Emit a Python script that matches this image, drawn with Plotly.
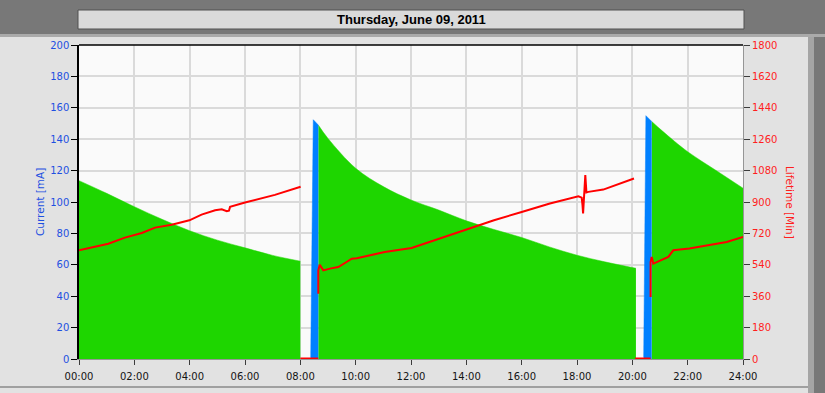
import plotly.graph_objects as go

# ---------------- data ----------------
# Beam current [mA] - stored-beam decay segments (hours of the day)
cur1_t = [0.0, 1.0, 2.0, 3.0, 4.0, 5.0, 6.0, 7.0, 8.0]
cur1_v = [113.6, 105.5, 97.0, 89.0, 81.7, 75.7, 70.8, 66.0, 62.3]
cur2_t = [8.65, 9.0, 10.0, 11.0, 12.0, 13.0, 14.0, 15.0, 16.0, 17.0, 18.0, 19.0, 20.13]
cur2_v = [149.0, 140.5, 121.5, 109.8, 101.3, 94.9, 88.0, 82.5, 77.4, 71.4, 66.1, 61.9, 57.8]
cur3_t = [20.7, 21.1, 22.0, 23.0, 24.0]
cur3_v = [151.3, 145.0, 132.0, 120.4, 108.8]

# Injection ramps [mA]
inj1_t = [8.375, 8.397, 8.433, 8.468, 8.65]
inj1_v = [1.0, 50.0, 120.5, 152.4, 149.0]
inj2_t = [20.41, 20.43, 20.46, 20.49, 20.7]
inj2_v = [1.0, 40.0, 110.0, 155.0, 151.3]

# Lifetime [Min]
life1_t = [0.0, 1.06, 1.66, 2.27, 2.75, 3.35, 3.99, 4.43, 4.92, 5.16, 5.34, 5.42, 5.46, 6.0, 7.08, 8.01]
life1_v = [623, 661, 696, 722, 753, 770, 795, 828, 853, 858, 847, 850, 872, 897, 941, 987]
life2_t = [8.65, 8.65, 8.7, 8.83, 9.07, 9.37, 9.67, 9.86, 10.04, 11.05, 12.02, 13.04, 14.13, 15.0,
           16.0, 17.02, 18.05, 18.17, 18.2, 18.22, 18.3, 18.32, 18.34, 18.41, 18.95, 20.06]
life2_v = [374, 508, 540, 508, 518, 527, 556, 575, 578, 613, 636, 690, 748, 795,
           843, 891, 933, 925, 880, 834, 1054, 1000, 955, 958, 971, 1035]
life3_t = [20.66, 20.66, 20.70, 20.76, 21.3, 21.48, 22.06, 22.69, 23.41, 24.0]
life3_v = [355, 556, 585, 547, 585, 623, 633, 652, 671, 699]
# Lifetime reads zero while no beam is stored
life0_1_t = [8.0, 8.65]
life0_1_v = [0, 0]
life0_2_t = [20.1, 20.66]
life0_2_v = [0, 0]

x_ticks = list(range(0, 25, 2))
x_labels = ["%02d:00" % h for h in x_ticks]
y_ticks = list(range(0, 201, 20))
y2_ticks = list(range(0, 1801, 180))

title_text = "Thursday, June 09, 2011"
y_title = "Current [mA]"
y2_title = "Lifetime [Min]"

# ---------------- styles ----------------
GREEN = "rgb(30,214,0)"
BLUE = "rgb(0,128,255)"
RED = "rgb(255,0,0)"
LBLUE = "rgb(30,80,225)"
LRED = "rgb(255,30,30)"
FONT = "DejaVu Sans"

W, H = 825, 393
L, R, T, B = 79, 82, 45, 34
PW, PH = W - L - R, H - T - B


def px(x):
    return (x - L) / PW


def py(y):
    return (H - B - y) / PH


fig = go.Figure()

for t, v in [(cur1_t, cur1_v), (cur2_t, cur2_v), (cur3_t, cur3_v)]:
    fig.add_trace(go.Scatter(x=t, y=v, mode="lines", line=dict(color=GREEN, width=0.5, shape="spline"),
                             fill="tozeroy", fillcolor=GREEN, hoverinfo="skip", showlegend=False))
for t, v in [(inj1_t, inj1_v), (inj2_t, inj2_v)]:
    fig.add_trace(go.Scatter(x=t, y=v, mode="lines", line=dict(color=BLUE, width=0.5),
                             fill="tozeroy", fillcolor=BLUE, hoverinfo="skip", showlegend=False))
for t, v in [(life1_t, life1_v), (life2_t, life2_v), (life3_t, life3_v)]:
    fig.add_trace(go.Scatter(x=t, y=v, yaxis="y2", mode="lines", line=dict(color=RED, width=2),
                             hoverinfo="skip", showlegend=False))
for t, v in [(life0_1_t, life0_1_v), (life0_2_t, life0_2_v)]:
    fig.add_trace(go.Scatter(x=t, y=v, yaxis="y2", mode="lines", line=dict(color=RED, width=3),
                             cliponaxis=False, hoverinfo="skip", showlegend=False))

shapes = [
    # header band
    dict(type="rect", xref="paper", yref="paper", x0=px(0), x1=px(W), y0=py(34), y1=py(0),
         fillcolor="rgb(120,120,120)", line=dict(width=0), layer="below"),
    dict(type="rect", xref="paper", yref="paper", x0=px(0), x1=px(W), y0=py(37), y1=py(34),
         fillcolor="rgb(170,170,170)", line=dict(width=0), layer="below"),
    # title box
    dict(type="rect", xref="paper", yref="paper", x0=px(78), x1=px(744), y0=py(29), y1=py(10),
         fillcolor="rgb(218,218,218)", line=dict(color="rgb(80,80,80)", width=1), layer="below"),
    # right border
    dict(type="rect", xref="paper", yref="paper", x0=px(808), x1=px(W), y0=py(H), y1=py(37),
         fillcolor="rgb(165,165,165)", line=dict(width=0), layer="below"),
    dict(type="rect", xref="paper", yref="paper", x0=px(814), x1=px(W), y0=py(H), y1=py(37),
         fillcolor="rgb(120,120,120)", line=dict(width=0), layer="below"),
    # bottom line
    dict(type="line", xref="paper", yref="paper", x0=px(0), x1=px(808), y0=py(387), y1=py(387),
         line=dict(color="rgb(160,160,160)", width=2), layer="below"),
    # top border of plot
    dict(type="line", xref="paper", yref="paper", x0=0, x1=1, y0=1, y1=1,
         line=dict(color="black", width=1.5)),
]

annotations = [
    dict(text="<b>" + title_text + "</b>", xref="paper", yref="paper", x=0.5, y=1,
         xanchor="center", yanchor="middle", yshift=T - 19,
         showarrow=False, font=dict(family="Liberation Sans", size=13, color="black")),
    dict(text=y_title, xref="paper", yref="paper", x=0, y=0.5, xanchor="center", yanchor="middle",
         xshift=-39, textangle=-90, showarrow=False, font=dict(family=FONT, size=10.5, color=LBLUE)),
    dict(text=y2_title, xref="paper", yref="paper", x=1, y=0.5, xanchor="center", yanchor="middle",
         xshift=47, textangle=90, showarrow=False, font=dict(family=FONT, size=10.5, color=LRED)),
]

fig.update_layout(
    width=W, height=H,
    margin=dict(l=L, r=R, t=T, b=B, pad=0),
    paper_bgcolor="rgb(226,226,226)",
    plot_bgcolor="rgb(250,250,250)",
    showlegend=False,
    shapes=shapes,
    annotations=annotations,
    xaxis=dict(range=[0, 24], tickvals=x_ticks, ticktext=x_labels, ticks="outside", ticklen=5,
               tickcolor="rgb(60,60,60)", showgrid=True, gridcolor="rgb(218,218,218)", gridwidth=2,
               showline=True, linecolor="rgb(150,150,150)", linewidth=1, zeroline=False,
               ticklabelstandoff=3,
               tickfont=dict(family=FONT, size=10, color="rgb(20,20,20)"), fixedrange=True),
    yaxis=dict(range=[0, 200], tickvals=y_ticks, ticks="outside", ticklen=6, tickcolor="black",
               showgrid=True, gridcolor="rgb(218,218,218)", gridwidth=2, showline=True,
               linecolor="black", linewidth=1.5, zeroline=False,
               tickfont=dict(family=FONT, size=10, color=LBLUE)),
    yaxis2=dict(range=[0, 1800], tickvals=y2_ticks, overlaying="y", side="right", ticks="outside",
                ticklen=6, tickcolor="rgb(60,60,60)", showgrid=False, showline=True,
                linecolor="rgb(150,150,150)", linewidth=1, zeroline=False,
                tickfont=dict(family=FONT, size=10, color=LRED)),
)

fig.write_html("out.html", config={"displayModeBar": False},
               post_script="document.body.style.margin='0px';document.body.style.overflow='hidden';")
